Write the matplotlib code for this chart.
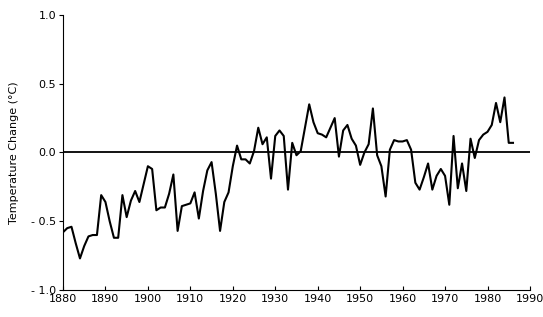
import matplotlib
matplotlib.use("Agg")
import matplotlib.pyplot as plt
import numpy as np

plt.rcParams["font.family"] = ["Liberation Sans Narrow", "DejaVu Sans"]

years = np.arange(1880, 1987)
anomaly = [
    -0.58, -0.55, -0.54, -0.66, -0.77, -0.68, -0.61, -0.60, -0.60, -0.31,  # 1880s
    -0.36, -0.50, -0.62, -0.62, -0.31, -0.47, -0.35, -0.28, -0.36, -0.23,  # 1890s
    -0.10, -0.12, -0.42, -0.40, -0.40, -0.30, -0.16, -0.57, -0.39, -0.38,  # 1900s
    -0.37, -0.29, -0.48, -0.28, -0.13, -0.07, -0.30, -0.57, -0.36, -0.29,  # 1910s
    -0.10, 0.05, -0.05, -0.05, -0.08, 0.01, 0.18, 0.06, 0.11, -0.19,       # 1920s
    0.12, 0.16, 0.12, -0.27, 0.07, -0.02, 0.01, 0.18, 0.35, 0.22,          # 1930s
    0.14, 0.13, 0.11, 0.18, 0.25, -0.03, 0.16, 0.20, 0.10, 0.05,           # 1940s
    -0.09, 0.00, 0.06, 0.32, -0.02, -0.10, -0.32, 0.02, 0.09, 0.08,        # 1950s
    0.08, 0.09, 0.02, -0.22, -0.27, -0.18, -0.08, -0.27, -0.17, -0.12,     # 1960s
    -0.17, -0.38, 0.12, -0.26, -0.08, -0.28, 0.10, -0.04, 0.09, 0.13,      # 1970s
    0.15, 0.20, 0.36, 0.22, 0.40, 0.07, 0.07,                              # 1980s
]

xticks = np.arange(1880, 1991, 10)
yticks = [-1.0, -0.5, 0.0, 0.5, 1.0]
ytick_labels = ["- 1.0", "- 0.5", "0.0", "0.5", "1.0"]

fig = plt.figure(figsize=(5.43, 3.17), dpi=100)
ax = fig.add_axes([0.116, 0.085, 0.86, 0.868])

ax.axhline(0, color="black", lw=1.3)
ax.plot(years, anomaly, color="black", lw=1.5)

ax.set_xlim(1880, 1990)
ax.set_ylim(-1.0, 1.0)
ax.set_xticks(xticks)
ax.set_yticks(yticks)
ax.set_yticklabels(ytick_labels)
ax.tick_params(axis="x", direction="in", length=3, labelsize=8, pad=3)
ax.tick_params(axis="y", direction="out", length=3, labelsize=8, pad=2)
ax.spines["top"].set_visible(False)
ax.spines["right"].set_visible(False)
ax.set_ylabel("Temperature Change (\u00b0C)", fontsize=8)
ax.yaxis.set_label_coords(-0.094, 0.5)

fig.savefig("out.png", dpi=100)
